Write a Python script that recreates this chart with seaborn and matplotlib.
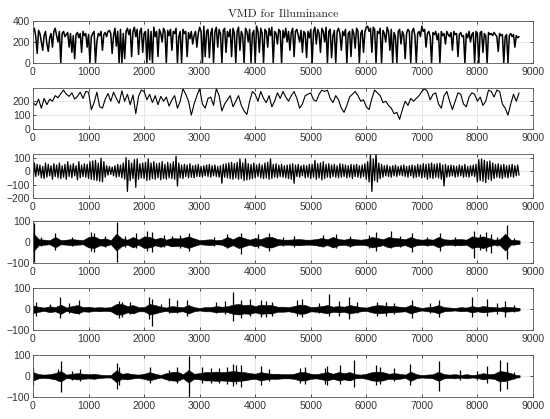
import numpy as np
import pandas as pd
import seaborn as sns
import matplotlib
matplotlib.use("Agg")
import matplotlib.pyplot as plt

# sample positions (hours)
x_fine = np.arange(0, 8775, 25)                      # 351 points, 0..8750
x_smooth = np.arange(0, 8800, 50)                    # 176 points, 0..8750
x_env = np.append(np.arange(0, 8800, 100), 8760)     # 89 points

# panel 1: original illuminance signal (step 25)
signal = [
    300, 330, 250, 90, 310, 280, 200, 120, 260, 300, 180, 110, 240, 280, 150, 300, 330, 260, 200, 300,
    0, 280, 300, 250, 270, 290, 150, 280, 100, 260, 40, 270, 290, 240, 280, 100, 300, 260, 280, 150,
    270, 0, 250, 280, 300, 0, 200, 280, 260, 300, 120, 270, 290, 250, 300, 310, 280, 90, 260, 330,
    160, 300, 0, 320, 0, 280, 40, 300, 330, 270, 320, 60, 300, 340, 250, 320, 80, 300, 330, 100,
    280, 300, 0, 320, 30, 300, 0, 340, 250, 300, 60, 320, 280, 200, 330, 300, 0, 310, 260, 320,
    120, 300, 280, 330, 0, 250, 300, 0, 320, 280, 300, 60, 290, 230, 300, 180, 260, 300, 150, 280,
    340, 300, 0, 350, 60, 300, 320, 50, 280, 330, 0, 300, 340, 150, 320, 280, 0, 310, 330, 100,
    300, 250, 320, 60, 330, 280, 0, 300, 340, 120, 300, 260, 0, 330, 300, 200, 320, 0, 280, 310,
    0, 350, 300, 100, 330, 280, 0, 320, 300, 150, 330, 260, 340, 0, 300, 280, 180, 320, 300, 0,
    310, 240, 330, 200, 300, 120, 290, 330, 60, 300, 320, 260, 200, 310, 100, 300, 280, 50, 300, 240,
    320, 0, 300, 340, 180, 320, 280, 100, 330, 300, 200, 340, 0, 300, 320, 50, 260, 310, 0, 300,
    330, 280, 120, 300, 260, 320, 0, 280, 300, 60, 320, 280, 140, 330, 300, 0, 280, 310, 100, 300,
    340, 350, 300, 330, 100, 340, 320, 0, 300, 280, 330, 0, 310, 280, 200, 340, 300, 120, 320, 0,
    290, 250, 0, 300, 320, 180, 300, 260, 40, 280, 320, 300, 0, 300, 330, 260, 0, 280, 300, 250,
    350, 300, 320, 150, 280, 300, 250, 0, 290, 270, 300, 220, 280, 0, 300, 260, 280, 180, 300, 270,
    250, 290, 120, 300, 270, 280, 60, 270, 290, 250, 260, 0, 280, 240, 300, 200, 270, 290, 0, 300,
    280, 0, 290, 300, 100, 280, 260, 0, 290, 270, 280, 260, 290, 270, 250, 110, 280, 260, 270, 0,
    250, 270, 0, 260, 280, 250, 270, 150, 260, 240, 250,
]

# panel 2: smooth mode (step 50)
mode1 = [
    190, 170, 215, 150, 220, 175, 215, 200, 240, 225, 255, 280, 250, 235, 260, 215, 235, 265, 220, 270,
    265, 140, 190, 265, 160, 150, 215, 255, 200, 265, 220, 185, 275, 200, 250, 175, 245, 110, 235, 280,
    270, 210, 250, 190, 240, 175, 235, 200, 230, 165, 210, 240, 150, 200, 290, 250, 200, 100, 180, 240,
    290, 180, 150, 220, 230, 170, 290, 240, 130, 180, 210, 240, 160, 200, 240, 170, 130, 105, 200, 270,
    250, 200, 270, 220, 190, 240, 160, 200, 260, 220, 270, 230, 200, 240, 270, 220, 150, 180, 240, 250,
    260, 210, 200, 250, 280, 270, 280, 220, 190, 240, 210, 150, 120, 170, 230, 250, 270, 240, 200, 210,
    160, 140, 220, 280, 260, 240, 190, 200, 170, 150, 110, 120, 70, 140, 200, 170, 220, 200, 220, 240,
    270, 290, 270, 210, 250, 260, 180, 150, 240, 270, 200, 140, 200, 260, 250, 180, 160, 230, 260, 250,
    200, 230, 170, 200, 280, 270, 230, 280, 270, 180, 150, 100, 180, 250, 200, 260,
]

# panel 3: oscillating mode (step 25)
mode2 = [
    -95, 60, -40, 50, -30, 45, -50, 35, -55, 60, -45, 50, -35, 40, -60, 55, -40, 45, -50, 60,
    -55, 40, -45, 50, -60, 70, -40, 45, -50, 55, -35, 40, -65, 70, -50, 45, -40, 55, -45, 50,
    -55, 70, -60, 75, -65, 80, -70, 60, -75, 95, -80, 70, -45, 40, -30, 35, -25, 30, -35, 40,
    -45, 50, -40, 45, -50, 60, -60, 100, -150, 80, -70, 60, -55, 85, -120, 90, -60, 55, -50, 60,
    -55, 65, -70, 90, -65, 60, -55, 70, -60, 55, -50, 60, -65, 70, -55, 50, -60, 65, -50, 55,
    -55, 70, -60, 110, -110, 60, -50, 45, -55, 50, -40, 45, -50, 55, -45, 40, -50, 45, -40, 50,
    -40, 35, -45, 40, -35, 45, -40, 50, -45, 40, -35, 45, -40, 35, -45, 40, -90, 50, -45, 55,
    -50, 60, -55, 65, -60, 55, -50, 65, -60, 90, -55, 60, -70, 90, -65, 55, -60, 50, -55, 60,
    -50, 45, -40, 55, -50, 45, -55, 60, -50, 65, -60, 90, -55, 50, -45, 55, -50, 45, -40, 50,
    -45, 40, -50, 45, -55, 50, -60, 55, -90, 45, -40, 50, -45, 40, -35, 45, -50, 40, -45, 50,
    -55, 50, -45, 80, -60, 55, -50, 60, -65, 70, -55, 50, -45, 55, -50, 45, -40, 50, -45, 40,
    -50, 55, -45, 50, -40, 45, -50, 40, -45, 50, -55, 45, -40, 50, -45, 40, -50, 45, -40, 55,
    -60, 70, -80, 120, -150, 90, -70, 130, -80, 60, -55, 50, -45, 40, -35, 45, -40, 35, -45, 40,
    -35, 45, -40, 35, -30, 40, -35, 45, -40, 35, -45, 40, -35, 45, -50, 40, -45, 50, -40, 45,
    -50, 55, -45, 50, -60, 55, -50, 60, -55, 50, -45, 55, -50, 60, -60, 45, -110, 50, -45, 40,
    -40, 45, -35, 40, -45, 35, -40, 45, -35, 40, -45, 50, -40, 35, -45, 40, -35, 45, -40, 50,
    -80, 85, -70, 90, -75, 80, -85, 70, -60, 75, -70, 60, -55, 50, -45, 55, -50, 45, -55, 50,
    -45, 40, -50, 45, -40, 50, -45, 40, -35, 45, -30,
]

# panels 4-6: envelope amplitude (step 100) plus isolated spikes
env3 = [
    45, 15, 12, 10, 25, 10, 12, 15, 12, 10,
    25, 28, 15, 18, 10, 40, 18, 12, 25, 12,
    28, 25, 15, 22, 12, 20, 18, 20, 28, 18,
    10, 12, 14, 10, 12, 25, 14, 28, 20, 12,
    20, 14, 25, 25, 15, 12, 12, 14, 15, 12,
    12, 15, 20, 14, 25, 15, 12, 18, 14, 12,
    15, 25, 20, 14, 25, 20, 18, 14, 25, 15,
    12, 15, 12, 25, 14, 12, 14, 15, 12, 28,
    22, 28, 20, 12, 14, 40, 12, 10, 8,
]
spike3_x = [20, 400, 1050, 1100, 1520, 1850, 2050, 2150, 2800, 3500, 3750,
            4050, 4250, 5450, 6180, 6450, 6830, 7330, 7930, 8150, 8240, 8530,
            150, 700, 1300, 1650, 2350, 2500, 2650, 3250, 4500, 4700, 5220,
            5700, 6050, 6600, 7090, 7600, 8050, 8350, 8650]
spike3_hi = [90, 45, 50, 45, 95, 45, 55, 50, 45, 40, 45, 40, 45, 40, 50, 55, 45, 45, 55, 50, 40, 80,
             25, 25, 30, 30, 35, 30, 35, 25, 25, 30, 35, 30, 35, 30, 25, 25, 40, 25, 20]
spike3_lo = [-95, -35, -40, -45, -95, -30, -40, -45, -40, -30, -55, -30, -40, -30, -40, -30,
             -45, -40, -75, -40, -50, -80,
             -20, -20, -25, -25, -25, -20, -30, -20, -20, -25, -25, -25, -30, -25, -20, -20,
             -35, -20, -15]

env4 = [
    18, 12, 8, 14, 10, 22, 8, 15, 20, 10,
    12, 8, 10, 8, 10, 25, 25, 15, 20, 10,
    10, 25, 20, 12, 8, 15, 12, 10, 20, 10,
    6, 10, 10, 15, 12, 14, 22, 25, 20, 22,
    15, 22, 20, 20, 12, 12, 10, 15, 22, 20,
    10, 12, 15, 20, 12, 15, 12, 20, 15, 10,
    8, 15, 20, 18, 15, 15, 12, 10, 20, 12,
    6, 10, 12, 20, 10, 8, 6, 10, 8, 15,
    10, 15, 12, 10, 8, 12, 10, 8, 6,
]
spike4_x = [480, 820, 2080, 2150, 2450, 2600, 2780, 3600, 3750, 3900, 4100,
            4850, 5320, 5500, 5680, 6200, 6820, 7300, 7900, 8170, 8500,
            50, 300, 650, 1550, 1600, 1750, 2300, 3300, 3450, 4200, 4300,
            4750, 5150, 5830, 6350, 6500, 7150, 8350, 8650]
spike4_hi = [60, 45, 60, 50, 55, 45, 45, 82, 45, 50, 45, 50, 75, 40, 60, 35, 45, 45, 60, 50, 40,
             35, 25, 30, 40, 35, 35, 25, 35, 40, 40, 35, 45, 30, 35, 35, 30, 30, 30, 20]
spike4_lo = [-40, -25, -45, -80, -20, -20, -30, -55, -40, -30, -35, -35, -30, -30, -45, -30,
             -40, -35, -35, -30, -35,
             -30, -15, -20, -40, -35, -25, -15, -20, -25, -35, -30, -30, -20, -20, -30, -25,
             -20, -25, -15]

env5 = [
    20, 10, 8, 10, 15, 25, 8, 12, 15, 12,
    10, 12, 8, 6, 6, 28, 12, 15, 10, 8,
    12, 20, 12, 6, 15, 20, 22, 10, 30, 12,
    15, 20, 20, 22, 20, 22, 25, 22, 20, 15,
    12, 20, 15, 12, 12, 10, 10, 12, 20, 20,
    12, 10, 15, 20, 12, 20, 15, 20, 10, 8,
    12, 20, 22, 20, 12, 15, 12, 8, 22, 10,
    6, 8, 10, 22, 10, 8, 10, 6, 10, 6,
    8, 15, 10, 12, 25, 22, 15, 6, 5,
]
spike5_x = [500, 850, 1520, 2100, 2600, 2800, 3050, 3600, 3750, 4100,
            4900, 5300, 5530, 5770, 6180, 6790, 7300, 8170, 8410, 8530,
            0, 450, 700, 1550, 2450, 3200, 3350, 3500, 3650, 4250, 4800,
            5250, 6250, 6490, 7690, 8000, 8650]
spike5_hi = [75, 35, 65, 45, 45, 95, 45, 60, 55, 50, 45, 50, 55, 80, 55, 60, 75, 50, 80, 70,
             40, 35, 25, 45, 30, 40, 40, 45, 55, 35, 40, 40, 45, 40, 30, 25, 20]
spike5_lo = [-75, -25, -60, -30, -30, -100, -30, -45, -50, -40, -35, -40, -35, -50, -40, -40,
             -70, -30, -70, -60,
             -40, -25, -20, -40, -25, -30, -30, -35, -35, -25, -30, -35, -35, -25, -20, -20,
             -15]

x_ticks = list(range(0, 10000, 1000))
y_limits = [(0, 400), (0, 295), (-200, 125), (-100, 100), (-100, 100), (-100, 100)]
y_ticks = [[0, 200, 400], [0, 100, 200], [-200, -100, 0, 100],
           [-100, 0, 100], [-100, 0, 100], [-100, 0, 100]]

sns.set_theme(style="whitegrid")
plt.rcParams["font.family"] = ["Liberation Sans", "DejaVu Sans"]

fig = plt.figure(figsize=(5.5, 4.19), dpi=100)

# [left, bottom, width, height] of each panel
rects = [
    [0.06, 0.850, 0.909, 0.100],
    [0.06, 0.692, 0.909, 0.098],
    [0.06, 0.527, 0.909, 0.105],
    [0.06, 0.372, 0.909, 0.100],
    [0.06, 0.212, 0.909, 0.100],
    [0.06, 0.052, 0.909, 0.100],
]
axes = [fig.add_axes(r) for r in rects]

lines = [(x_fine, signal, 1.1), (x_smooth, mode1, 0.8), (x_fine, mode2, 0.9)]
for ax, (xs, vals, lw) in zip(axes[:3], lines):
    df = pd.DataFrame({"t": xs, "v": vals})
    sns.lineplot(data=df, x="t", y="v", ax=ax, color="black", linewidth=lw,
                 estimator=None)

envs = [(env3, spike3_x, spike3_hi, spike3_lo),
        (env4, spike4_x, spike4_hi, spike4_lo),
        (env5, spike5_x, spike5_hi, spike5_lo)]
for ax, (env, sx, shi, slo) in zip(axes[3:], envs):
    env = np.array(env)
    ax.fill_between(x_env, -env, env, color="black", linewidth=0.4)
    ax.vlines(sx, slo, shi, color="black", linewidth=0.9)

for i, ax in enumerate(axes):
    ax.set_xlim(0, 9000)
    ax.set_ylim(*y_limits[i])
    ax.set_xticks(x_ticks)
    ax.set_yticks(y_ticks[i])
    ax.set_xlabel("")
    ax.set_ylabel("")
    ax.grid(True, color="#e3e3e3", linewidth=0.6)
    ax.set_axisbelow(True)
    for s in ax.spines.values():
        s.set_color("#555555")
        s.set_linewidth(0.6)
    ax.tick_params(axis="both", direction="in", length=2.5, width=0.6,
                   colors="#333333", labelsize=7.5, pad=2,
                   top=True, right=True, bottom=True, left=True)
    ax.tick_params(axis="x", pad=3)

axes[0].set_title("VMD for Illuminance", fontfamily="cmr10", fontsize=8.5,
                  color="#222222", pad=3)

plt.savefig("out.png", dpi=100)
